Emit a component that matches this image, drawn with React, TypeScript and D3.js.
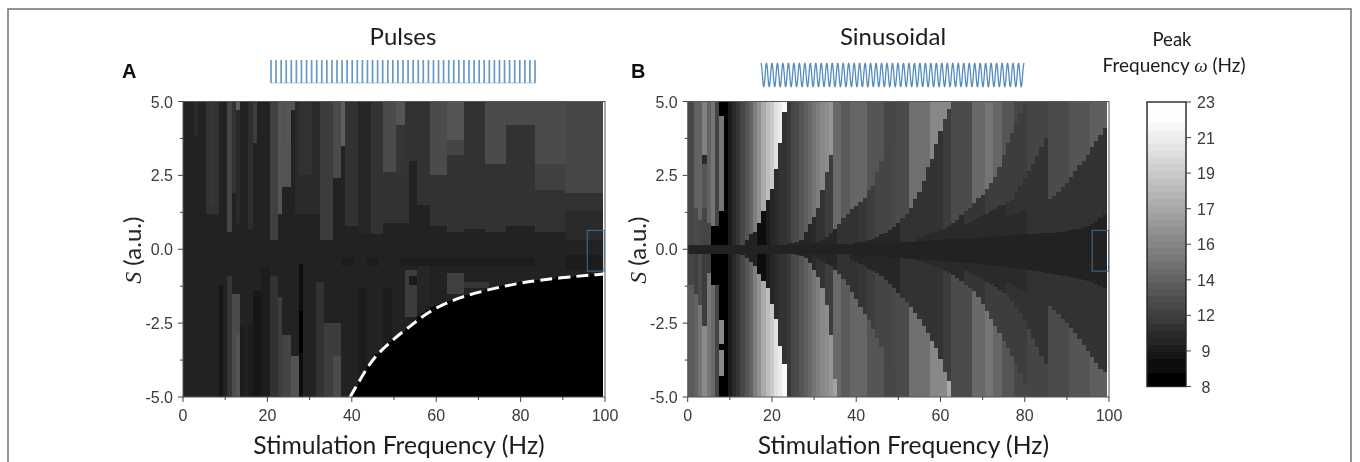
import * as d3 from 'd3'

const WIDTH = 1360
const HEIGHT = 462
const PLOT_TOP = 101.5
const PLOT_BOTTOM = 397
const LABEL_FONT = 'Lato, "Noto Sans", sans-serif'
const TICK_FONT = '"Liberation Sans", Arial, sans-serif'

const X_MAJOR = [0, 20, 40, 60, 80, 100]
const X_MINOR = [10, 30, 50, 70, 90]
const Y_MAJOR = [5, 2.5, 0, -2.5, -5]
const Y_MINOR = [3.75, 1.25, -1.25, -3.75]
const COLORBAR_LABELS = ['23', '21', '19', '17', '16', '14', '12', '9', '8']
const COLORBAR_LEVELS = [
  23, 22.95, 22.9, 22.5, 22.1, 21.8, 21.4, 21, 20.6, 20.2, 19.8, 19.4, 19, 18.6, 18.2, 17.8, 17.4, 17,
  16.6, 16.2, 15.8, 15.4, 15, 14.6, 14.2, 13.8, 13.4, 13, 12.6, 12.2, 11.8, 11.4, 11, 10.6, 10.2,
  9.8, 9.4, 9, 8.6, 8.2, 8,
]

// column tones (Hz) of panel B fans, each list starts at its *_START column
const FAN1_START = 10
const fan1Hz = [9.5, 10.6, 11.2, 12.1, 13, 13.9, 15.4, 16.5, 18, 19.2, 19.8, 21.2, 21.8, 22.7]
const FAN2_START = 12
const fan2Hz = [10, 10, 10, 10, 10, 8.5, 8.8, 9.5, 10.2, 10.5, 10.8, 11, 11.3, 12.1, 12.4, 13, 13.6, 14.2, 14.8, 15.4, 16, 16.3, 16.8, 17.6]
const FAN3_START = 24
const fan3Hz = [10.2, 10.2, 10.2, 10.2, 10.2, 10.2, 10.5, 11, 11, 11.5, 11.5, 14.2, 14.2, 13.3, 13.3, 14, 14, 14, 14, 13, 13, 13, 13, 12.2, 12.2, 12.2]
const FAN4_START = 30
const fan4Hz = [10.3, 10.3, 10.3, 10.3, 10.3, 10.3, 10.8, 10.8, 10.8, 10.8, 11, 11.2, 11.2, 11.5, 11.5, 12, 12, 12, 12, 12.2, 12.4, 12.4, 12.4, 14.5, 14.5, 14.5, 14.5, 14.5, 16, 16, 16, 16, 16]
const FAN5_START = 39
const fan5Hz = [10.3, 10.3, 10.3, 10.3, 10.3, 10.3, 10.3, 10.3, 10.3, 10.3, 10.3, 10.3, 10.8, 10.8, 10.8, 10.8, 10.8, 11, 11, 11, 11, 11, 11.5, 11.5, 12.4, 12.4, 12.4, 12.4, 12.4, 14.2, 14.2, 14.2, 14.8, 14.8, 14, 14, 13, 13, 13, 12.2, 12.2, 12.2]
const FAN6_START = 55
const fan6Hz = [10.5, 10.5, 10.5, 10.5, 10.5, 10.5, 10.5, 10.5, 10.5, 10.5, 10.5, 11.2, 11.2, 11.2, 11.2, 11.2, 11.5, 11.5, 11.5, 11.5, 11.5, 11.5, 11.5, 11.5, 11.5, 11.5, 12, 12, 12, 12, 12, 12.4, 12.4, 12.4, 12.4]
const FAN7_START = 62
const fan7Hz = [10.5, 10.5, 10.5, 10.5, 10.5, 10.5, 10.5, 10.5, 10.5, 10.5, 10.5, 10.5, 10.5, 10.5, 11, 11, 11, 11, 11, 11, 11, 11, 11, 11, 12.4, 12.4, 12.4, 12.4, 12.4, 13, 13, 13, 13, 13, 13.6, 13.6, 13.6, 13.6]
const FAN8_START = 68
const fan8Hz = [10.4, 10.4, 10.4, 10.4, 10.4, 10.4, 10.4, 10.4, 10.4, 10.4, 10.4, 10.4, 10.4, 10.8, 10.8, 10.8, 10.8, 10.8, 10.8, 10.8, 10.8, 10.8, 10.8, 11, 11, 11, 11, 11, 11, 11, 11, 11]

// |S| height at which each column leaves a fan, upper half of panel B
const upperCut1 = [0.12, 0.12, 0.3, 0.5, 0.57, 0.9, 1.3, 1.65, 2.05, 2.7, 3.58, 4.66]
const upperCut2 = [0.2, 0.22, 0.25, 0.3, 0.6, 0.85, 1.1, 1.4, 2.0, 2.6, 3.2]
const upperCut3 = [0.2, 0.25, 0.3, 0.4, 0.55, 0.7, 0.85, 1.05, 1.2, 1.35, 1.45, 1.6, 1.75, 2.0, 2.15, 2.6, 3.0, 3.35, 3.6, 4.9]
const upperCut4 = [0.24, 0.26, 0.28, 0.3, 0.34, 0.4, 0.5, 0.55, 0.65, 0.75, 0.88, 1.05, 1.2, 1.4, 1.7, 1.95, 2.3, 2.8, 3.05, 3.55, 4.0, 4.4, 4.75]
const upperCut5 = [0.4, 0.45, 0.5, 0.55, 0.6, 0.65, 0.7, 0.8, 0.9, 1.0, 1.15, 1.3, 1.4, 1.55, 1.75, 1.85, 2.05, 2.25, 2.45, 2.8, 3.2, 3.6, 3.95, 4.3, 4.6, 4.9]
const upperCut6 = [0.55, 0.6, 0.65, 0.75, 0.85, 0.9, 1.0, 1.05, 1.15, 1.2, 1.3, 1.35, 1.45, 1.5, 1.6, 1.65, 1.9, 2.15, 2.4, 2.65, 2.9, 3.15, 3.45, 3.75, 4.05, 4.35, 4.55, 4.8]
const upperCut7 = [0.7, 0.72, 0.78, 0.8, 0.88, 0.92, 0.98, 1.05, 1.1, 1.15, 1.2, 1.25, 1.3, 1.35, 1.42, 1.48, 1.53, 1.6, 1.7, 1.8, 1.95, 2.1, 2.25, 2.45, 2.65, 2.85, 3.0, 3.2, 3.45, 3.65, 3.85, 4.1]

// same cuts for the lower half
const lowerCut1 = [0.12, 0.2, 0.3, 0.42, 0.56, 0.84, 1.07, 1.3, 1.86, 2.36, 3.27, 3.9]
const lowerCut2 = [0.2, 0.22, 0.3, 0.45, 0.7, 0.95, 1.3, 1.9, 2.9, 4.4]
const lowerCut3 = [0.2, 0.3, 0.4, 0.5, 0.55, 0.7, 0.85, 1.0, 1.2, 1.45, 1.7, 1.95, 2.2, 2.4, 2.7, 3.0, 3.3, 3.6, 4.2, 4.9]
const lowerCut4 = [0.38, 0.42, 0.5, 0.58, 0.66, 0.74, 0.82, 0.92, 1.05, 1.18, 1.32, 1.48, 1.65, 1.8, 1.95, 2.15, 2.35, 2.6, 2.85, 3.1, 3.35, 3.7, 4.15, 4.45]
const lowerCut5 = [0.4, 0.45, 0.5, 0.55, 0.6, 0.65, 0.72, 0.8, 0.88, 0.98, 1.08, 1.2, 1.3, 1.42, 1.6, 1.85, 2.1, 2.35, 2.6, 2.85, 3.1, 3.35, 3.6, 3.85, 4.2, 4.6, 4.9]
const lowerCut6 = [0.5, 0.55, 0.6, 0.65, 0.72, 0.8, 0.88, 0.95, 1.02, 1.1, 1.18, 1.28, 1.38, 1.48, 1.6, 1.75, 1.95, 2.15, 2.4, 2.7, 3, 3.3, 3.6, 3.9, 4.2, 4.5, 4.8]
const lowerCut7 = [0.66, 0.7, 0.75, 0.8, 0.88, 0.93, 1, 1.06, 1.13, 1.2, 1.27, 1.33, 1.4, 1.46, 1.55, 1.63, 1.72, 1.82, 1.93, 2.05, 2.2, 2.35, 2.5, 2.65, 2.85, 3.05, 3.25, 3.45, 3.65, 3.85, 4.05, 4.17]

// dark band around S = 0, every column
const upperBand = [
  0.16, 0.16, 0.16, 0.16, 0.16, 0.16, 0.16, 0.16, 0.16, 0.16, 0.16, 0.16, 0.16, 0.16, 0.16, 0.16, 0.16, 0.16, 0.16, 0.16,
  0.16, 0.16, 0.16, 0.16, 0.16, 0.16, 0.16, 0.16, 0.16, 0.16, 0.17, 0.17, 0.17, 0.17, 0.17, 0.17, 0.17, 0.17, 0.17, 0.17,
  0.18, 0.18, 0.18, 0.18, 0.19, 0.19, 0.19, 0.2, 0.2, 0.21, 0.22, 0.23, 0.24, 0.25, 0.26, 0.27, 0.28, 0.29, 0.3, 0.31,
  0.32, 0.33, 0.33, 0.34, 0.34, 0.35, 0.36, 0.36, 0.37, 0.38, 0.4, 0.41, 0.42, 0.43, 0.44, 0.45, 0.46, 0.47, 0.47, 0.48,
  0.5, 0.51, 0.52, 0.53, 0.54, 0.55, 0.56, 0.56, 0.57, 0.58, 0.62, 0.65, 0.68, 0.7, 0.74, 0.78, 0.85, 0.95, 1.05, 1.19,
]
const lowerBand = [
  0.16, 0.16, 0.16, 0.16, 0.16, 0.16, 0.16, 0.16, 0.16, 0.16, 0.16, 0.16, 0.16, 0.16, 0.16, 0.16, 0.16, 0.16, 0.16, 0.16,
  0.16, 0.16, 0.16, 0.16, 0.16, 0.16, 0.16, 0.16, 0.16, 0.16, 0.17, 0.17, 0.17, 0.17, 0.17, 0.17, 0.17, 0.17, 0.17, 0.17,
  0.2, 0.21, 0.22, 0.23, 0.24, 0.25, 0.26, 0.27, 0.28, 0.3, 0.3, 0.31, 0.32, 0.33, 0.34, 0.35, 0.36, 0.36, 0.37, 0.38,
  0.4, 0.41, 0.42, 0.43, 0.44, 0.45, 0.46, 0.47, 0.48, 0.5, 0.52, 0.53, 0.55, 0.56, 0.58, 0.6, 0.61, 0.63, 0.64, 0.66,
  0.68, 0.7, 0.72, 0.75, 0.77, 0.8, 0.82, 0.85, 0.87, 0.9, 0.92, 0.94, 0.96, 1.0, 1.03, 1.07, 1.12, 1.17, 1.23, 1.3,
]

// [first column, last column, S low, S high, Hz]
const sinusoidPatches = [
  [0, 1, 0, 5, 12.1], [2, 2, 1.4, 5, 13.9], [2, 2, 0, 1.4, 12.4], [3, 3, 1.0, 5, 13.9], [3, 3, 0, 1.0, 12.1],
  [4, 4, 3.2, 5, 15.6], [4, 4, 2.9, 3.2, 10.5], [4, 4, 1.4, 2.9, 13], [4, 4, 0, 1.4, 12],
  [5, 5, 0.9, 5, 13.9], [5, 5, 0, 0.9, 12], [6, 6, 0.8, 5, 14.8], [6, 6, 0, 0.8, 8.2],
  [7, 7, 0.8, 5, 12], [7, 7, 0, 0.8, 8.2], [8, 8, 4.5, 5, 8.3], [8, 8, 1.3, 4.5, 14.8], [8, 8, 0, 1.3, 8.3], [9, 9, 0, 5, 8.3],
  [0, 1, -1.2, 0, 12], [0, 1, -5, -1.2, 13.3], [2, 2, -1.5, 0, 11.8], [2, 2, -5, -1.5, 13.9],
  [3, 3, -1.9, 0, 12.4], [3, 3, -5, -1.9, 14.8], [4, 4, -2.6, 0, 11.5], [4, 4, -5, -2.6, 16.2],
  [5, 5, -0.8, 0, 11.5], [5, 5, -5, -0.8, 15], [6, 6, -1.2, 0, 8.2], [6, 6, -5, -1.2, 14.2],
  [7, 7, -1.2, 0, 8.2], [7, 7, -5, -1.2, 12], [8, 8, -2.4, 0, 8.2], [8, 8, -3.2, -2.4, 16], [8, 8, -3.4, -3.2, 8.2],
  [8, 8, -4.3, -3.4, 16], [8, 8, -5, -4.3, 8.2], [9, 9, -5, 0, 8.3],
  [35, 35, -5, -4.4, 17.5], [62, 62, -5, -4.45, 18],
]

// panel A: stripes over the dark base
const PULSE_BASE_HZ = 10.1
const pulsePatches = [
  [3, 3, 3.8, 5, 10.5], [6, 8, 1.2, 5, 10.8], [7, 7, 1.5, 5, 11.1], [11, 11, 0.6, 5, 12], [12, 12, 1.9, 5, 11],
  [13, 13, 4.7, 5, 13.5], [13, 13, 0.9, 4.7, 10.5], [16, 16, 0.7, 5, 10.7], [17, 17, 3.6, 5, 11.5],
  [21, 22, 0.3, 5, 11.8], [23, 23, 1.2, 5, 13], [24, 25, 2.1, 5, 12.8], [25, 25, 3.6, 5, 13], [26, 26, 4.7, 5, 13],
  [27, 32, 1.2, 5, 10.6], [28, 30, 2.5, 5, 10.9], [33, 35, 0.3, 5, 11.6], [36, 37, 2.4, 5, 12.4], [38, 38, 3.5, 5, 13.5],
  [39, 41, 0.8, 5, 10.8], [42, 44, 0.5, 5, 10.3], [45, 47, 0.5, 5, 10.8], [48, 50, 2.6, 5, 12.4],
  [48, 53, 0.9, 2.6, 11], [51, 52, 4.2, 5, 13], [51, 53, 2.5, 4.2, 11.2], [53, 55, 3, 5, 11], [56, 58, 1.5, 5, 10.8],
  [59, 62, 2.5, 5, 12.4], [59, 62, 0.8, 2.5, 10.9], [63, 66, 3.7, 5, 13], [63, 66, 3.2, 3.7, 12], [63, 66, 0.6, 3.2, 10.9],
  [67, 71, 0.7, 5, 10.8], [72, 76, 2.9, 5, 12.4], [72, 76, 0.6, 2.9, 11], [77, 83, 4.2, 5, 12.4], [77, 83, 0.8, 4.2, 10.9],
  [84, 90, 2.9, 5, 12.4], [84, 90, 2.0, 2.9, 11.8], [84, 90, 0.6, 2, 10.9],
  [91, 99, 1.9, 5, 12.2], [91, 99, 1.3, 1.9, 11], [91, 99, 0.3, 1.3, 10.5],
  [9, 9, -5, -1.2, 9.4], [11, 11, -5, -0.9, 11.2], [12, 13, -5, -1.5, 12.4], [13, 13, -5, -2.9, 13],
  [14, 14, -5, -2.6, 9.5], [16, 16, -5, -2.6, 9.5], [17, 18, -5, -1.4, 9.2], [19, 20, -5, -0.6, 9.5],
  [21, 22, -5, -0.9, 10.8], [23, 23, -5, -1.6, 11.5], [24, 25, -5, -2.9, 12], [26, 27, -5, -3.6, 12.8],
  [28, 28, -5, -0.5, 9], [28, 28, -3.5, -2.1, 8.3], [32, 33, -5, -1.1, 11], [34, 37, -5, -2.5, 11.5], [36, 37, -5, -3.6, 12.4],
  [42, 43, -5, -1.3, 9.5], [48, 49, -3.3, -1.3, 9.5], [53, 55, -2.3, -0.7, 11.5], [54, 55, -1.2, -0.9, 9.5],
  [56, 58, -1.9, -0.4, 10.2], [63, 66, -1.5, -0.8, 11.8], [67, 72, -1.3, -1.1, 11.2],
  [38, 40, -0.55, -0.3, 9.5], [44, 46, -0.55, -0.3, 9.5], [52, 83, -0.55, -0.3, 9.6], [91, 99, -0.7, -0.2, 9.6],
]

// upper edge of the silent (black) region of panel A, columns 40 to 99
const SILENT_START = 40
const silentEdge = [
  -4.9, -4.65, -4.4, -4.15, -3.9, -3.7, -3.55, -3.4, -3.25, -3.15,
  -3.05, -2.9, -2.8, -2.7, -2.55, -2.4, -2.25, -2.15, -2.05, -1.95,
  -1.9, -1.85, -1.8, -1.75, -1.7, -1.65, -1.6, -1.55, -1.5, -1.5,
  -1.45, -1.4, -1.35, -1.35, -1.3, -1.25, -1.2, -1.2, -1.15, -1.15,
  -1.1, -1.1, -1.1, -1.05, -1.05, -1, -1, -1, -1, -0.95,
  -0.95, -0.95, -0.95, -0.9, -0.9, -0.9, -0.9, -0.85, -0.85, -0.85,
]

// the dashed curve as it was drawn over the black region
const dashFreq = [39.6, 43.6, 46, 50, 53.9, 56.2, 60.2, 65.7, 72.8, 80, 89.4, 99.7]
const dashS = [-5, -4, -3.55, -3.02, -2.6, -2.33, -1.95, -1.62, -1.35, -1.13, -0.96, -0.84]

const FAN_LISTS = [
  { start: FAN1_START, hz: fan1Hz, cutStart: 12, upper: upperCut1, lowerStart: 12, lower: lowerCut1 },
  { start: FAN2_START, hz: fan2Hz, cutStart: 24, upper: upperCut2, lowerStart: 26, lower: lowerCut2 },
  { start: FAN3_START, hz: fan3Hz, cutStart: 30, upper: upperCut3, lowerStart: 30, lower: lowerCut3 },
  { start: FAN4_START, hz: fan4Hz, cutStart: 40, upper: upperCut4, lowerStart: 39, lower: lowerCut4 },
  { start: FAN5_START, hz: fan5Hz, cutStart: 55, upper: upperCut5, lowerStart: 55, lower: lowerCut5 },
  { start: FAN6_START, hz: fan6Hz, cutStart: 62, upper: upperCut6, lowerStart: 62, lower: lowerCut6 },
  { start: FAN7_START, hz: fan7Hz, cutStart: 68, upper: upperCut7, lowerStart: 68, lower: lowerCut7 },
]

type Cell = [number, number, number, number, number]

const grey = d3.scaleLinear<string>().domain([8, 23]).range(['#000000', '#ffffff']).clamp(true)

// painter's order: outer fans first, the ones nearer the left on top
function sinusoidCells(): Cell[] {
  const cells: Cell[] = []
  for (const sign of [1, -1]) {
    const stripe = (c: number, lo: number, hz: number) => {
      cells.push(sign > 0 ? [c, c, lo, 5, hz] : [c, c, -5, -lo, hz])
    }
    fan8Hz.forEach((hz, i) => stripe(FAN8_START + i, 0, hz))
    for (const fan of [...FAN_LISTS].reverse()) {
      const cut = sign > 0 ? fan.upper : fan.lower
      const cutStart = sign > 0 ? fan.cutStart : fan.lowerStart
      fan.hz.forEach((hz, i) => {
        const c = fan.start + i
        if (c > cutStart + cut.length - 1) return
        stripe(c, c < cutStart ? 0 : cut[c - cutStart], hz)
      })
    }
  }
  cells.push(...(sinusoidPatches as Cell[]))
  upperBand.forEach((s, c) => cells.push([c, c, 0, s, 10]))
  lowerBand.forEach((s, c) => cells.push([c, c, -s, 0, 10]))
  return cells
}

function pulseCells(): Cell[] {
  const cells: Cell[] = [[0, 99, -5, 5, PULSE_BASE_HZ], ...(pulsePatches as Cell[])]
  silentEdge.forEach((s, i) => cells.push([SILENT_START + i, SILENT_START + i, -5, s, 8]))
  return cells
}

function Axes({ x, y, title }: { x: any; y: any; title: string }) {
  const [x0, x1] = x.range()
  const [y0, y1] = y.range()
  return (
    <g fontFamily={TICK_FONT} fontSize={16} fill="#3a3a3a">
      <rect x={x0} y={y1} width={x1 - x0} height={y0 - y1} fill="none" stroke="#555" strokeWidth={1} />
      {X_MAJOR.map(t => (
        <g key={t}>
          <line x1={x(t)} x2={x(t)} y1={y0} y2={y0 + 5} stroke="#444" />
          <text x={x(t)} y={y0 + 24} textAnchor="middle">{t}</text>
        </g>
      ))}
      {X_MINOR.map(t => <line key={t} x1={x(t)} x2={x(t)} y1={y0} y2={y0 + 3} stroke="#444" />)}
      {Y_MAJOR.map(t => (
        <g key={t}>
          <line x1={x0 - 5} x2={x0} y1={y(t)} y2={y(t)} stroke="#444" />
          <text x={x0 - 10} y={y(t) + 6} textAnchor="end">{t.toFixed(1)}</text>
        </g>
      ))}
      {Y_MINOR.map(t => <line key={t} x1={x0 - 3} x2={x0} y1={y(t)} y2={y(t)} stroke="#444" />)}
      <text
        x={(x0 + x1) / 2 + 5}
        y={y0 + 57}
        textAnchor="middle"
        fontFamily={LABEL_FONT}
        fontSize={24.7}
        fill="#1c1c1c"
      >
        {title}
      </text>
      <text
        transform={`translate(${x0 - 42}, ${y(0) + 1}) rotate(-90)`}
        textAnchor="middle"
        fontFamily={LABEL_FONT}
        fontSize={24}
        fill="#2a2226"
      >
        <tspan fontStyle="italic" fontFamily='"Liberation Serif", serif'>S</tspan> (a.u.)
      </text>
    </g>
  )
}

function Heat({ cells, x, y }: { cells: Cell[]; x: any; y: any }) {
  return (
    <g shapeRendering="crispEdges">
      {cells.map(([c0, c1, lo, hi, hz], i) => {
        const left = x(Math.max(c0 - 0.5, 0))
        const right = x(c1 + 0.5)
        return (
          <rect key={i} x={left} width={right - left} y={y(hi)} height={y(lo) - y(hi)} fill={grey(hz)} />
        )
      })}
    </g>
  )
}

const PULSE_COUNT = 52
const SINE_COUNT = 48

function PulseTrain({ x0, x1, top, bottom }: { x0: number; x1: number; top: number; bottom: number }) {
  const px = d3.scaleLinear().domain([0, PULSE_COUNT]).range([x0, x1])
  return (
    <g stroke="#3f7fb8" strokeWidth={1.7} opacity={0.8}>
      {d3.range(PULSE_COUNT + 1).map(i => <line key={i} x1={px(i)} x2={px(i)} y1={top} y2={bottom} />)}
      <line x1={x0} x2={x1} y1={bottom} y2={bottom} strokeWidth={0.8} opacity={0.6} />
    </g>
  )
}

function SineTrain({ x0, x1, top, bottom }: { x0: number; x1: number; top: number; bottom: number }) {
  const px = d3.scaleLinear().domain([0, SINE_COUNT]).range([x0, x1])
  const py = d3.scaleLinear().domain([-1, 1]).range([bottom, top])
  const path = d3.line<number>()
    .x(d => px(d))
    .y(d => py(Math.cos(d * Math.PI * 2)))
    .curve(d3.curveLinear)(d3.range(0, SINE_COUNT + 0.01, 0.1))
  return <path d={path ?? ''} fill="none" stroke="#3f7fb8" strokeWidth={1.3} opacity={0.9} />
}

export default function App() {
  const yS = d3.scaleLinear().domain([-5, 5]).range([PLOT_BOTTOM, PLOT_TOP])
  const xA = d3.scaleLinear().domain([0, 100]).range([183, 605])
  const xB = d3.scaleLinear().domain([0, 100]).range([687.7, 1109])

  const dashed = d3.line<number>()
    .x(d => xA(d))
    .y((_, i) => yS(dashS[i]))
    .curve(d3.curveBasis)(dashFreq)

  const barY = d3.scalePoint<string>().domain(COLORBAR_LABELS).range([102, 386.5])
  const levelY = d3.scaleBand<number>().domain(COLORBAR_LEVELS).range([102, 386.5])

  return (
    <svg
      width={WIDTH}
      height={HEIGHT}
      style={{ position: 'absolute', left: 0, top: 0, background: '#fff' }}
    >
      <defs>
        <filter id="soft" x="0" y="0" width={WIDTH} height={HEIGHT} filterUnits="userSpaceOnUse">
          <feGaussianBlur stdDeviation="0.45" />
        </filter>
      </defs>

      <g filter="url(#soft)">
        <path d={`M8,${HEIGHT}V9H1351V${HEIGHT}`} fill="none" stroke="#727272" strokeWidth={1.5} />

        {/* panel A */}
        <Heat cells={pulseCells()} x={xA} y={yS} />
        <path d={dashed ?? ''} fill="none" stroke="#fff" strokeWidth={3} strokeDasharray="12 6" />
        <rect x={xA(95.8)} y={yS(0.64)} width={xA(99.8) - xA(95.8)} height={yS(-0.74) - yS(0.64)} fill="none" stroke="#3f6d99" strokeWidth={1} />
        <Axes x={xA} y={yS} title="Stimulation Frequency (Hz)" />

        {/* panel B */}
        <Heat cells={sinusoidCells()} x={xB} y={yS} />
        <rect x={xB(96)} y={yS(0.64)} width={xB(99.9) - xB(96)} height={yS(-0.74) - yS(0.64)} fill="none" stroke="#3f6d99" strokeWidth={1} />
        <Axes x={xB} y={yS} title="Stimulation Frequency (Hz)" />

        <text x={403} y={45} textAnchor="middle" fontFamily={LABEL_FONT} fontSize={24} fill="#1c1c1c">Pulses</text>
        <text x={893} y={45} textAnchor="middle" fontFamily={LABEL_FONT} fontSize={24} fill="#1c1c1c">Sinusoidal</text>
        <PulseTrain x0={271} x1={535} top={60} bottom={83} />
        <SineTrain x0={761} x1={1024} top={63} bottom={87} />

        <text x={122} y={78} fontFamily={TICK_FONT} fontWeight="bold" fontSize={20} fill="#111">A</text>
        <text x={631} y={78} fontFamily={TICK_FONT} fontWeight="bold" fontSize={20} fill="#111">B</text>

        {/* colour bar */}
        <g shapeRendering="crispEdges">
          {COLORBAR_LEVELS.map(v => (
            <rect key={v} x={1147} width={39} y={levelY(v)} height={(levelY.bandwidth() ?? 0) + 0.5} fill={grey(v)} />
          ))}
        </g>
        <rect x={1147} y={102} width={39} height={284.5} fill="none" stroke="#222" strokeWidth={1.4} />
        <g fontFamily={TICK_FONT} fontSize={16} fill="#3a3a3a">
          {COLORBAR_LABELS.map(label => (
            <g key={label}>
              <line x1={1186} x2={1191} y1={barY(label)} y2={barY(label)} stroke="#444" />
              <text x={1206} y={(barY(label) ?? 0) + 6} textAnchor="middle">{label}</text>
            </g>
          ))}
        </g>
        <text x={1172} y={46} textAnchor="middle" fontFamily={LABEL_FONT} fontSize={18.5} fill="#1c1c1c">Peak</text>
        <text x={1174} y={72} textAnchor="middle" fontFamily={LABEL_FONT} fontSize={19} fill="#1c1c1c">
          Frequency <tspan fontStyle="italic" fontFamily='"Liberation Serif", serif'>ω</tspan> (Hz)
        </text>
      </g>
    </svg>
  )
}
